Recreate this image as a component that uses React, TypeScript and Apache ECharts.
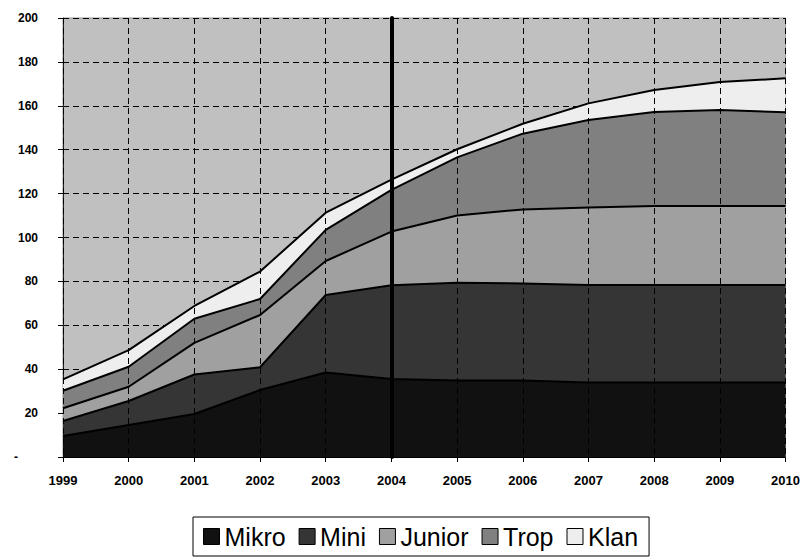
import React, { useEffect, useRef } from "react";
import * as echarts from "echarts";

const years = ["1999", "2000", "2001", "2002", "2003", "2004", "2005", "2006", "2007", "2008", "2009", "2010"];
const mikro = [9.6, 14.6, 19.6, 30.5, 38.5, 35.5, 34.8, 34.8, 33.9, 33.9, 33.9, 33.9];
const mini = [6.8, 10.9, 18.0, 10.4, 35.3, 42.7, 44.6, 44.3, 44.5, 44.5, 44.5, 44.5];
const junior = [5.8, 6.5, 14.4, 23.8, 15.5, 24.5, 30.6, 33.7, 35.3, 36.0, 36.0, 36.0];
const trop = [8.0, 9.1, 11.0, 7.3, 14.2, 19.0, 26.5, 34.5, 39.8, 42.8, 43.7, 42.7];
const klan = [5.2, 7.6, 5.8, 12.5, 7.8, 4.7, 3.7, 4.5, 7.6, 10.0, 12.7, 15.4];
const seriesNames = ["Mikro", "Mini", "Junior", "Trop", "Klan"];
const markerYear = "2004";
const zeroLabel = "-";

export default function App() {
  const ref = useRef<HTMLDivElement>(null);
  useEffect(() => {
    const chart = echarts.init(ref.current!, null, { renderer: "svg" });
    const fills = ["#111111", "#353535", "#a0a0a0", "#808080", "#eeeeee"];
    const values = [mikro, mini, junior, trop, klan];
    const series: any[] = seriesNames.map((name, i) => ({
      name,
      type: "line",
      stack: "total",
      data: values[i],
      color: fills[i],
      showSymbol: false,
      symbol: "none",
      lineStyle: { color: "#000", width: 2 },
      areaStyle: { color: fills[i], opacity: 1 },
      z: 2,
    }));
    series[4].markLine = {
      silent: true,
      symbol: ["none", "none"],
      label: { show: false },
      lineStyle: { color: "#000", width: 4, type: "solid", cap: "round" },
      data: [{ xAxis: markerYear }],
    };
    chart.setOption({
      animation: false,
      backgroundColor: "#fff",
      textStyle: { fontFamily: "Arial, 'Liberation Sans', sans-serif" },
      grid: {
        left: 63,
        right: 17,
        top: 18,
        bottom: 101,
        show: true,
        backgroundColor: "#c0c0c0",
        borderColor: "#999",
        borderWidth: 1,
      },
      legend: {
        left: 193,
        top: 517,
        padding: [7, 11, 7, 10],
        itemGap: 13,
        itemWidth: 16,
        itemHeight: 16,
        icon: "rect",
        borderColor: "#000",
        borderWidth: 1,
        itemStyle: { borderColor: "#000", borderWidth: 1 },
        textStyle: { fontSize: 25, color: "#000", fontFamily: "Arial, 'Liberation Sans', sans-serif" },
        data: seriesNames,
      },
      xAxis: {
        type: "category",
        data: years,
        boundaryGap: false,
        z: 5,
        axisLine: { lineStyle: { color: "#000", width: 1 } },
        axisTick: { show: true, inside: false, length: 5, lineStyle: { color: "#000" } },
        axisLabel: { color: "#000", fontSize: 13, fontWeight: "bold", margin: 17 },
        splitLine: { show: true, lineStyle: { color: "#000", type: [6, 4], width: 1 } },
      },
      yAxis: {
        type: "value",
        min: 0,
        max: 200,
        interval: 20,
        axisLine: { show: true, lineStyle: { color: "#222", width: 1 } },
        axisTick: { show: true, inside: false, length: 5, lineStyle: { color: "#000" } },
        axisLabel: {
          color: "#000",
          fontSize: 12,
          fontWeight: "bold",
          margin: 25,
          formatter: (v: number) => (v === 0 ? "{d|" + zeroLabel + "}" : String(v)),
          rich: { d: { fontSize: 12, fontWeight: "bold", color: "#000", padding: [0, 20, 0, 0] } },
        },
        splitLine: { show: true, lineStyle: { color: "#000", type: [6, 4], width: 1 } },
      },
      series,
    });
    return () => chart.dispose();
  }, []);
  return <div ref={ref} style={{ position: "fixed", left: 0, top: 0, width: 803, height: 558 }} />;
}
